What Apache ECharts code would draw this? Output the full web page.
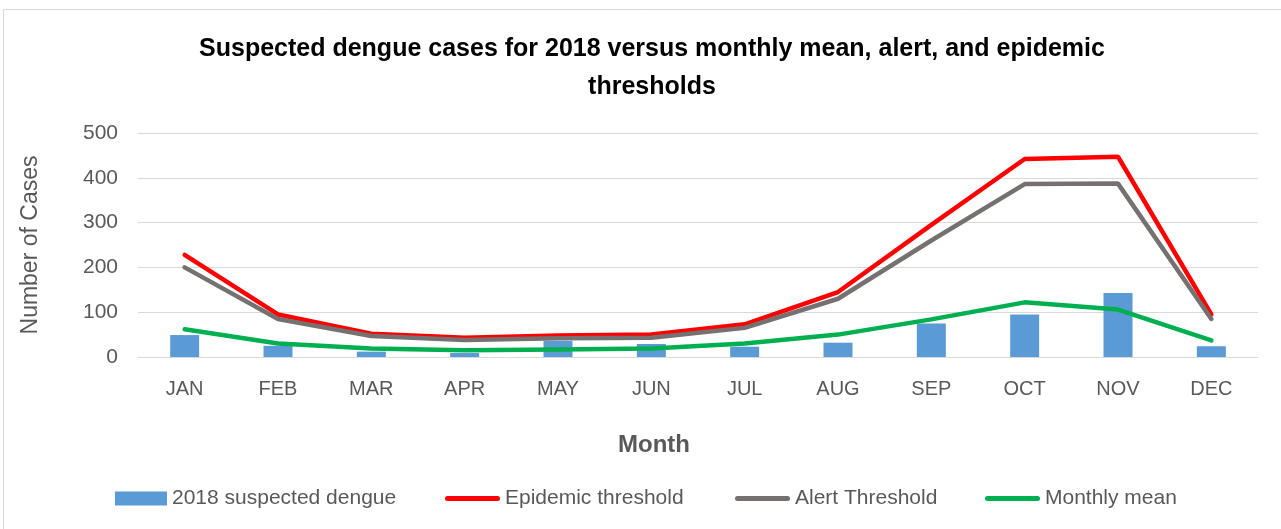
<!DOCTYPE html>
<html><head><meta charset="utf-8">
<script src="https://cdn.jsdelivr.net/npm/echarts@6/dist/echarts.min.js"></script>
<style>html,body{margin:0;padding:0;background:#fff}#c{width:1281px;height:529px}</style>
</head><body><div id="c"></div>
<script>
const months = ['JAN','FEB','MAR','APR','MAY','JUN','JUL','AUG','SEP','OCT','NOV','DEC'];
const suspected = [49, 25, 12, 9, 36, 29, 23, 32, 75, 95, 143, 24];
const epidemic = [228, 95, 52, 43, 48, 50, 73, 145, 295, 442, 447, 95];
const alertT = [200, 85, 47, 38, 42, 43, 65, 130, 260, 386, 387, 85];
const mean = [62, 30, 19, 15, 17, 19, 30, 50, 84, 122, 106, 37];

const font = '"Liberation Sans", Arial, sans-serif';
const txt = '#595959';
const lineIcon = 'path://M2.5,0 L52.5,0 A2.5,2.5 0 0 1 52.5,5 L2.5,5 A2.5,2.5 0 0 1 2.5,0 Z';
const legTxt = {fontFamily:font, fontSize:21, color:txt};
const chart = echarts.init(document.getElementById('c'));
chart.setOption({
  animation: false,
  graphic: [{type:'rect', shape:{x:3.5,y:9.5,width:1290,height:540}, style:{fill:'none', stroke:'#D9D9D9', lineWidth:1}, silent:true}],
  title: {
    text: 'Suspected dengue cases for 2018 versus monthly mean, alert, and epidemic\nthresholds',
    left: 647, textAlign: 'center', top: 25,
    textStyle: {fontFamily: font, fontWeight: 'bold', fontSize: 25, lineHeight: 38, color: '#000'}
  },
  grid: {left: 138, right: 23, top: 133, bottom: 172},
  legend: [
    {data:[{name:'2018 suspected dengue', icon:'rect'}], left:115, top:488, padding:0, itemWidth:52, itemHeight:14, textStyle:legTxt},
    {data:[{name:'Epidemic threshold', icon:lineIcon}], left:445, top:488, padding:0, itemWidth:55, itemHeight:5, textStyle:legTxt},
    {data:[{name:'Alert Threshold', icon:lineIcon}], left:735, top:488, padding:0, itemWidth:55, itemHeight:5, textStyle:legTxt},
    {data:[{name:'Monthly mean', icon:lineIcon}], left:985, top:488, padding:0, itemWidth:55, itemHeight:5, textStyle:legTxt}
  ],
  xAxis: {
    type: 'category', data: months,
    name: 'Month', nameLocation: 'middle', nameGap: 76,
    nameTextStyle: {fontFamily: font, fontWeight: 'bold', fontSize: 24, color: txt, padding: [0, 88, 0, 0]},
    axisLine: {lineStyle: {color: '#D9D9D9', width: 1}},
    axisTick: {show: false},
    axisLabel: {fontFamily: font, fontSize: 20, color: txt, margin: 22}
  },
  yAxis: {
    type: 'value', min: 0, max: 500, interval: 100,
    name: 'Number of Cases', nameLocation: 'middle', nameGap: 96,
    nameTextStyle: {fontFamily: font, fontSize: 23, color: txt},
    axisLine: {show: false}, axisTick: {show: false},
    axisLabel: {fontFamily: font, fontSize: 21, color: txt, margin: 20},
    splitLine: {lineStyle: {color: '#D9D9D9', width: 1}}
  },
  series: [
    {name:'2018 suspected dengue', type:'bar', data:suspected, barWidth:29, itemStyle:{color:'#5B9BD5'}},
    {name:'Epidemic threshold', type:'line', data:epidemic, symbol:'none', lineStyle:{color:'#FF0000', width:4.5, cap:'round'}, itemStyle:{color:'#FF0000'}},
    {name:'Alert Threshold', type:'line', data:alertT, symbol:'none', lineStyle:{color:'#767171', width:4.5, cap:'round'}, itemStyle:{color:'#767171'}},
    {name:'Monthly mean', type:'line', data:mean, symbol:'none', lineStyle:{color:'#00B050', width:4.5, cap:'round'}, itemStyle:{color:'#00B050'}}
  ]
});
</script></body></html>
